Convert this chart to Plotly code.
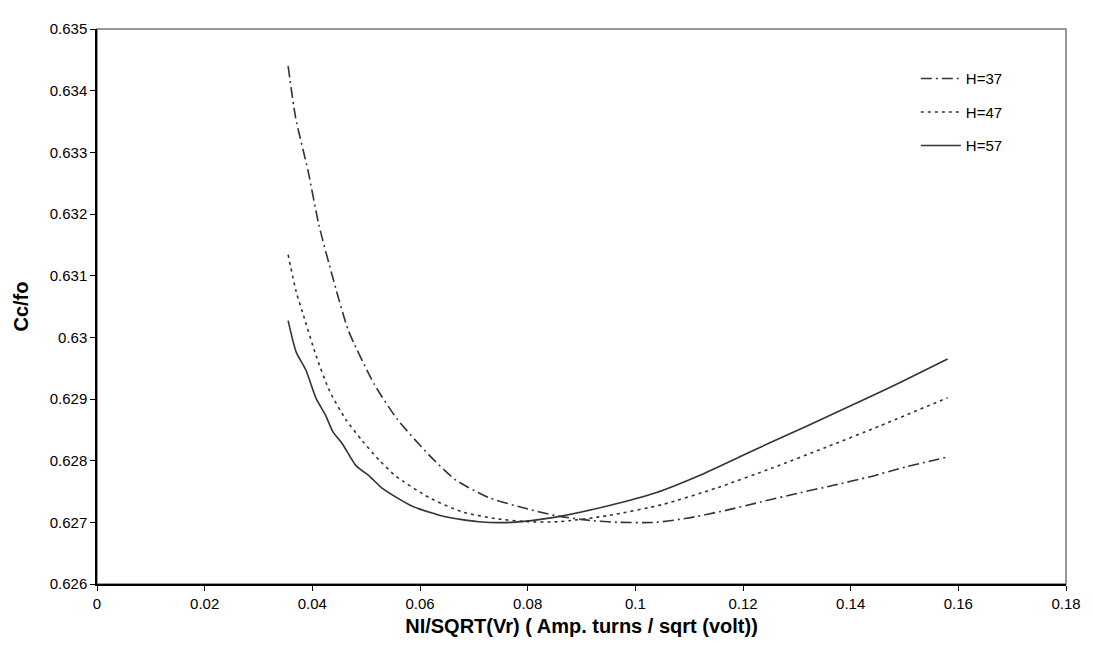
import plotly.graph_objects as go

# H=37 (dash-dot)
x37 = [0.0355, 0.0369, 0.0392, 0.0412, 0.0438, 0.0467, 0.0515, 0.0558, 0.0617, 0.0666,
       0.0728, 0.0790, 0.0851, 0.0916, 0.0970, 0.1038, 0.1098, 0.1166, 0.1233, 0.1301,
       0.1368, 0.1436, 0.1503, 0.1580]
y37 = [0.63440, 0.63356, 0.63270, 0.63183, 0.63097, 0.63011, 0.62924, 0.62867, 0.62809, 0.62769,
       0.62740, 0.62724, 0.62711, 0.62703, 0.62700, 0.62700, 0.62707, 0.62719, 0.62733, 0.62747,
       0.62760, 0.62774, 0.62790, 0.62806]

# H=47 (dotted)
x47 = [0.0355, 0.0370, 0.0382, 0.0407, 0.0432, 0.0462, 0.0493, 0.0524, 0.0555, 0.0617,
       0.0678, 0.0740, 0.0800, 0.0858, 0.0950, 0.1051, 0.1152, 0.1254, 0.1355, 0.1456, 0.1580]
y47 = [0.63134, 0.63074, 0.63040, 0.62970, 0.62913, 0.62867, 0.62832, 0.62801, 0.62775, 0.62740,
       0.62717, 0.62706, 0.62701, 0.62701, 0.62711, 0.62729, 0.62756, 0.62788, 0.62822, 0.62857, 0.62902]

# H=57 (solid)
x57 = [0.0355, 0.0370, 0.0388, 0.0407, 0.0425, 0.0438, 0.0456, 0.0481, 0.0506, 0.0530,
       0.0586, 0.0647, 0.0709, 0.0771, 0.0849, 0.0950, 0.1038, 0.1119, 0.1220, 0.1321,
       0.1422, 0.1490, 0.1580]
y57 = [0.63027, 0.62976, 0.62947, 0.62901, 0.62873, 0.62847, 0.62827, 0.62792, 0.62775, 0.62755,
       0.62726, 0.62709, 0.62701, 0.62700, 0.62708, 0.62727, 0.62748, 0.62776, 0.62817, 0.62857,
       0.62898, 0.62926, 0.62965]

x_ticks = [0, 0.02, 0.04, 0.06, 0.08, 0.1, 0.12, 0.14, 0.16, 0.18]
y_ticks = [0.626, 0.627, 0.628, 0.629, 0.63, 0.631, 0.632, 0.633, 0.634, 0.635]

series = [
    ("H=37", x37, y37, "11px,4px,2px,4px"),
    ("H=47", x47, y47, "3px,4px"),
    ("H=57", x57, y57, "solid"),
]

fig = go.Figure()
for i, (name, xs, ys, dash) in enumerate(series):
    fig.add_trace(go.Scatter(
        x=xs, y=ys, mode="lines", name=name, legendgroup=name,
        line=dict(color="#333333", width=1.6, dash=dash, shape="spline", smoothing=0.6),
    ))

font_family = "Arial, Liberation Sans, sans-serif"
fig.update_layout(
    width=1085, height=647,
    margin=dict(l=88, r=24, t=12, b=71),
    paper_bgcolor="white", plot_bgcolor="white",
    font=dict(family=font_family, size=15, color="black"),
    showlegend=True,
    legend=dict(
        x=0.845, y=0.94, xanchor="left", yanchor="top",
        bgcolor="rgba(0,0,0,0)", font=dict(size=15),
        tracegroupgap=11, itemwidth=40,
    ),
    shapes=[dict(type="rect", xref="paper", yref="paper", x0=0, y0=0, x1=1, y1=1,
                 line=dict(color="#777777", width=1.5), layer="below")],
)
fig.update_xaxes(
    range=[0, 0.18], tickvals=x_ticks, ticktext=[f"{v:g}" for v in x_ticks],
    showgrid=False, zeroline=False, showline=True, linecolor="black", linewidth=1.5,
    ticks="outside", ticklen=5, tickcolor="black", tickfont=dict(size=15),
    title=dict(text="<b>NI/SQRT(Vr) ( Amp. turns / sqrt (volt))</b>", font=dict(size=20), standoff=8),
)
fig.update_yaxes(
    range=[0.626, 0.635], tickvals=y_ticks, ticktext=[f"{v:g}" for v in y_ticks],
    showgrid=False, zeroline=False, showline=True, linecolor="black", linewidth=1.5,
    ticks="outside", ticklen=5, tickcolor="black", tickfont=dict(size=15),
    title=dict(text="<b>Cc/fo</b>", font=dict(size=20), standoff=16),
)

fig.write_html("out.html")
